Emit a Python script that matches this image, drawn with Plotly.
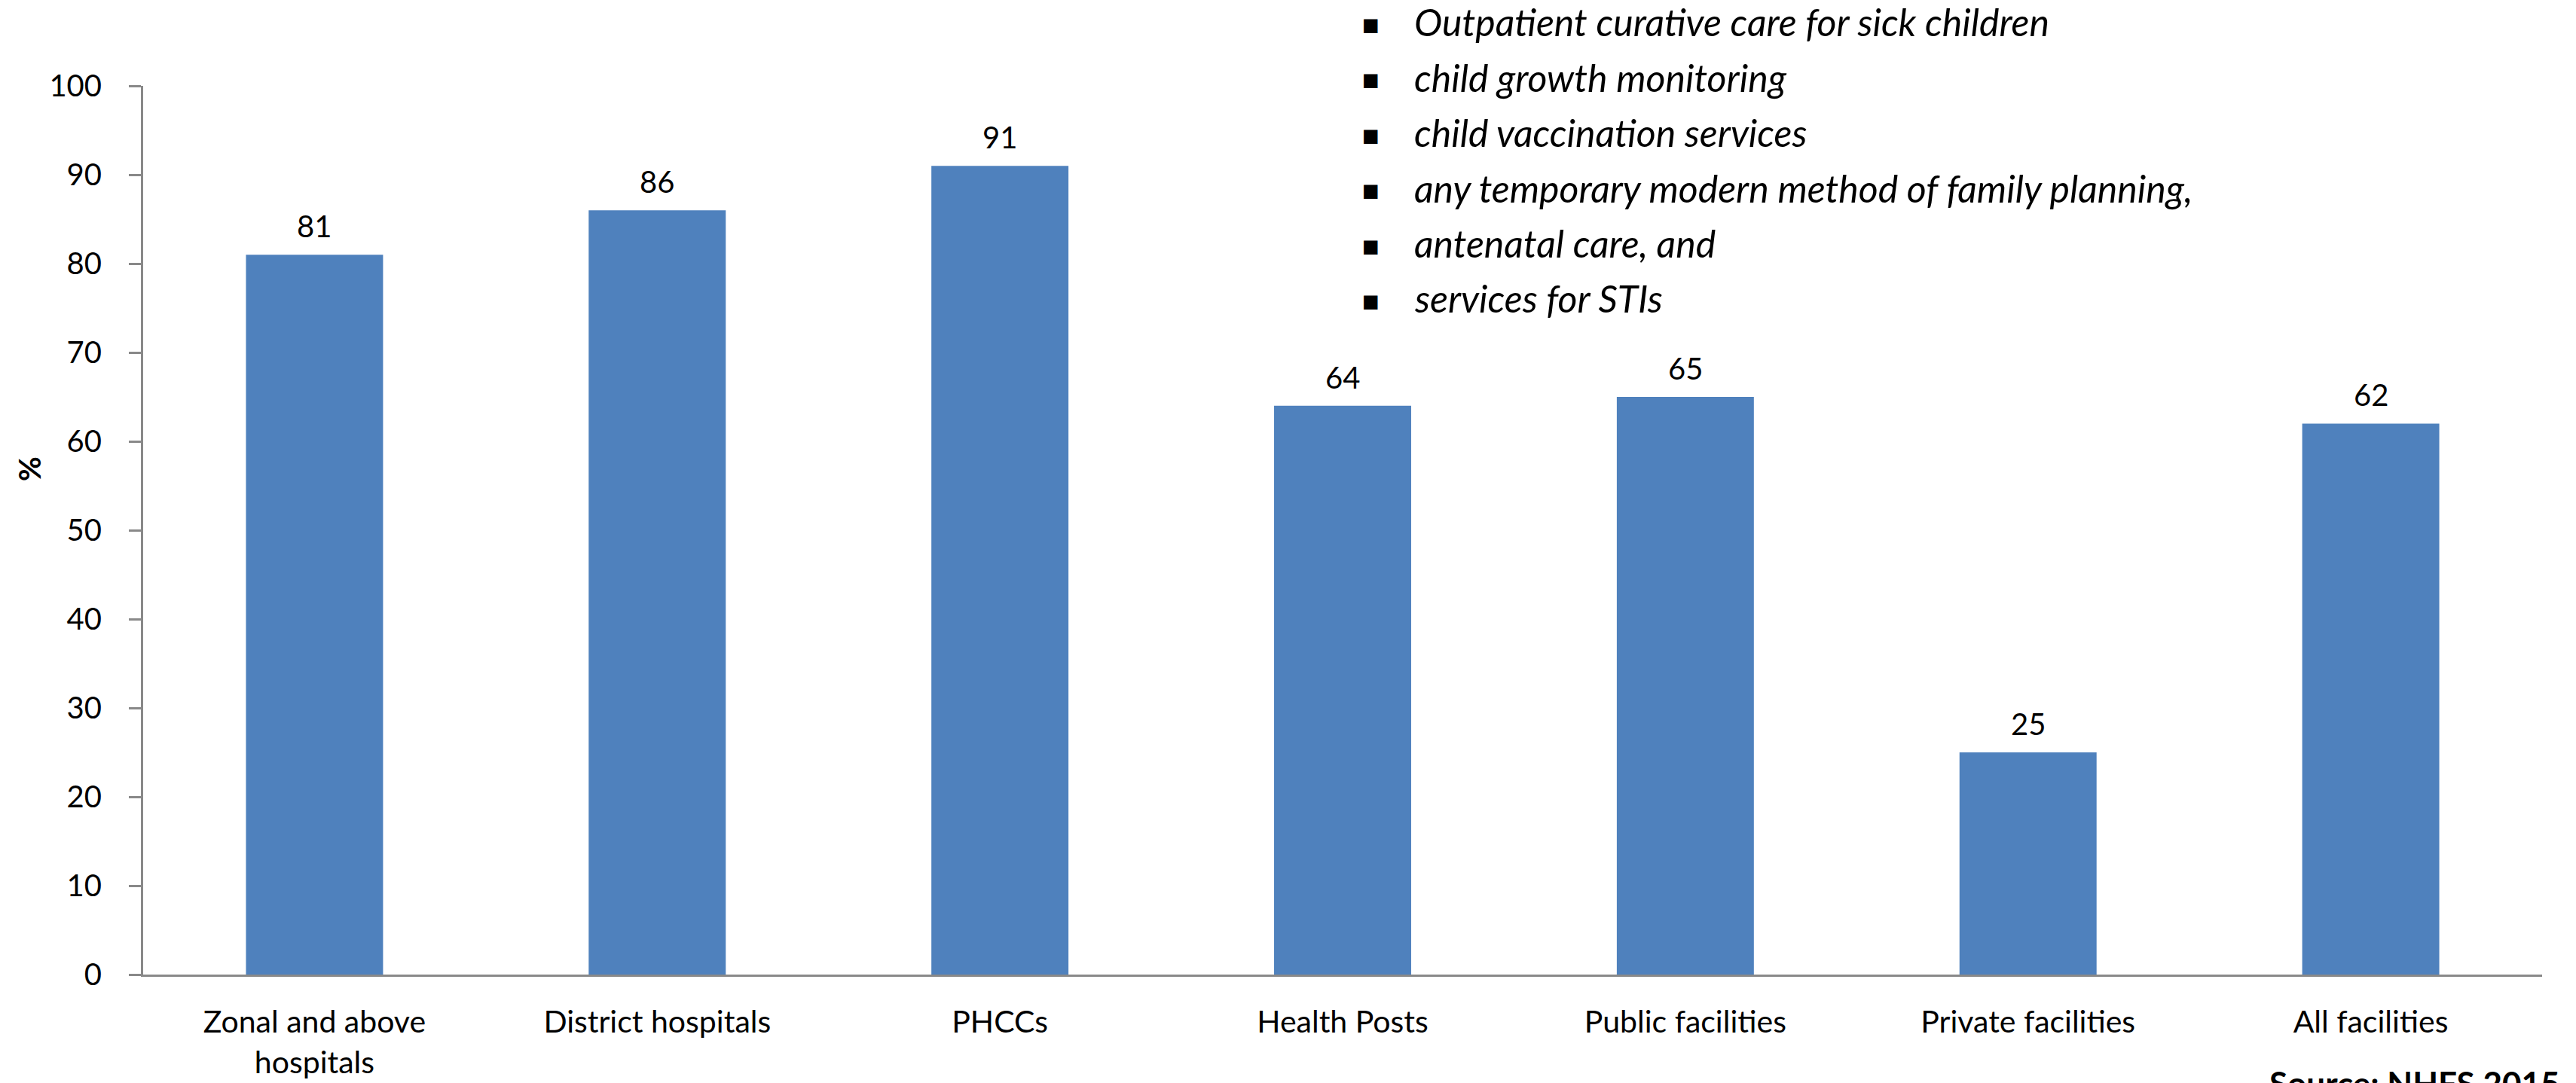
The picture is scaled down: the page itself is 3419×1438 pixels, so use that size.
import plotly.graph_objects as go

# Facility types and share (%) offering the full set of basic child/maternal services
categories = [
    "Zonal and above<br>hospitals",
    "District hospitals",
    "PHCCs",
    "Health Posts",
    "Public facilities",
    "Private facilities",
    "All facilities",
]
values = [81, 86, 91, 64, 65, 25, 62]

services = [
    "Outpatient curative care for sick children",
    "child growth monitoring",
    "child vaccination services",
    "any temporary modern method of family planning,",
    "antenatal care, and",
    "services for STIs",
]

y_ticks = list(range(0, 101, 10))

W, H = 3419, 1438
L, R, T, B = 190, 45, 114, 144
PW, PH = W - L - R, H - T - B

FONT = "Lato, 'Open Sans', sans-serif"
BAR = "#4F81BD"
AXIS = "#898989"


def px_x(p):
    return (p - L) / PW


def px_y(p):
    return (H - B - p) / PH


fig = go.Figure(
    go.Bar(
        x=categories,
        y=values,
        marker=dict(color=BAR, line=dict(width=0)),
        hoverinfo="x+y",
    )
)

# value labels above the bars
for c, v in zip(categories, values):
    fig.add_annotation(
        x=c, y=v, text=str(v), showarrow=False,
        xanchor="center", yanchor="bottom", yshift=12,
        font=dict(family=FONT, size=40, color="#000000"),
    )

# services list (bulleted) in the upper right
for i, s in enumerate(services):
    yc = px_y(33 + 73.4 * i)
    fig.add_annotation(
        xref="paper", yref="paper", x=px_x(1819), y=yc,
        text="■", showarrow=False, xanchor="center", yanchor="middle",
        font=dict(family="DejaVu Sans", size=24, color="#000000"),
    )
    fig.add_annotation(
        xref="paper", yref="paper", x=px_x(1875), y=yc + 0.003,
        text=f"<i>{s}</i>", showarrow=False, xanchor="left", yanchor="middle",
        font=dict(family=FONT, size=50, color="#000000"),
    )

# y-axis title
fig.add_annotation(
    xref="paper", yref="paper", x=px_x(39), y=px_y(623),
    text="<b>%</b>", textangle=-90, showarrow=False,
    xanchor="center", yanchor="middle",
    font=dict(family=FONT, size=40, color="#000000"),
)

# source note along the bottom edge
fig.add_annotation(
    xref="paper", yref="paper", x=px_x(3010), y=px_y(1410),
    text="<b>Source: NHFS 2015</b>", showarrow=False,
    xanchor="left", yanchor="top",
    font=dict(family=FONT, size=44, color="#000000"),
)

fig.update_layout(
    width=W, height=H,
    margin=dict(l=L, r=R, t=T, b=B, pad=0, autoexpand=False),
    paper_bgcolor="white", plot_bgcolor="white",
    bargap=0.6,
    showlegend=False,
    font=dict(family=FONT, size=40, color="#000000"),
)

fig.update_xaxes(
    type="category",
    range=[-0.5, len(categories) - 0.5],
    showline=True, linecolor=AXIS, linewidth=3,
    ticks="", showgrid=False, zeroline=False,
    tickfont=dict(family=FONT, size=41, color="#000000"),
    ticklabelstandoff=25,
    automargin=False,
)

fig.update_yaxes(
    range=[0, 100], tickvals=y_ticks,
    showline=True, linecolor=AXIS, linewidth=3,
    ticks="outside", ticklen=16, tickwidth=3, tickcolor=AXIS,
    showgrid=False, zeroline=False,
    tickfont=dict(family=FONT, size=40, color="#000000"),
    ticklabelstandoff=28,
    automargin=False,
)

fig.write_html("out.html")
